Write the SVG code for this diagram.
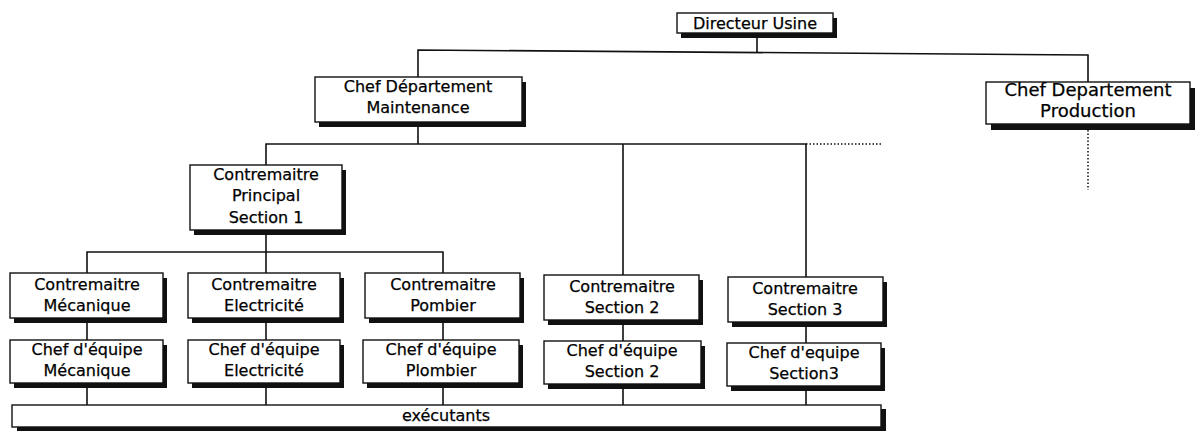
<svg xmlns="http://www.w3.org/2000/svg" width="1196" height="432" viewBox="0 0 1196 432">
  <style>
    .shadow { fill: #111; }
    .box { fill: #fff; stroke: #111; stroke-width: 1.4; }
    .lbl { font-family: "DejaVu Sans", "Liberation Sans", sans-serif; font-size: 16px; fill: #000; stroke: #000; stroke-width: 0.25; text-anchor: middle; }
    .big { font-size: 18px; }
    .wire { fill: none; stroke: #111; stroke-width: 1.6; }
    .dots { fill: none; stroke: #111; stroke-width: 1.5; stroke-dasharray: 1.5 2; }
  </style>
  <rect width="1196" height="432" fill="#fff"/>

  <!-- connectors -->
  <g id="connectors">
    <path class="wire" d="M757 38 V52 M418 77 V50 L1088 55 V82"/>
    <path class="wire" d="M418 127 V144 M266 165 V144 H806 V277 M623 144 V275"/>
    <path class="dots" d="M806 144 H883 M1088 130 V190"/>
    <path class="wire" d="M266 235 V273 M87 273 V252 H443 V273"/>
    <path class="wire" d="M87 323 V340 M266 323 V340 M443 323 V340 M623 325 V341 M806 327 V343"/>
    <path class="wire" d="M87 388 V405 M266 388 V405 M443 388 V405 M623 389 V405 M806 391 V405"/>
  </g>

  <!-- top level -->
  <g id="directeur">
    <rect class="shadow" x="681" y="18" width="156" height="20"/>
    <rect class="box" x="677" y="13" width="156" height="20"/>
    <text class="lbl" x="755" y="28.5">Directeur Usine</text>
  </g>

  <g id="chef-maintenance">
    <rect class="shadow" x="319" y="82" width="207" height="45"/>
    <rect class="box" x="315" y="77" width="207" height="45"/>
    <text class="lbl" x="418" y="92">Chef Département</text>
    <text class="lbl" x="418" y="113">Maintenance</text>
  </g>

  <g id="chef-production">
    <rect class="shadow" x="991" y="88" width="204" height="42"/>
    <rect class="box" x="986" y="82" width="204" height="42"/>
    <text class="lbl big" x="1088" y="96">Chef Departement</text>
    <text class="lbl big" x="1088" y="117">Production</text>
  </g>

  <g id="principal-s1">
    <rect class="shadow" x="194" y="170" width="152" height="65"/>
    <rect class="box" x="190" y="165" width="152" height="65"/>
    <text class="lbl" x="266" y="180">Contremaitre</text>
    <text class="lbl" x="266" y="201">Principal</text>
    <text class="lbl" x="266" y="223">Section 1</text>
  </g>

  <!-- foremen row -->
  <g id="contremaitre-mecanique">
    <rect class="shadow" x="14" y="278" width="153" height="45"/>
    <rect class="box" x="10" y="273" width="153" height="45"/>
    <text class="lbl" x="87" y="290">Contremaitre</text>
    <text class="lbl" x="87" y="311">Mécanique</text>
  </g>

  <g id="contremaitre-electricite">
    <rect class="shadow" x="192" y="278" width="152" height="45"/>
    <rect class="box" x="188" y="273" width="152" height="45"/>
    <text class="lbl" x="264" y="290">Contremaitre</text>
    <text class="lbl" x="264" y="311">Electricité</text>
  </g>

  <g id="contremaitre-pombier">
    <rect class="shadow" x="369" y="278" width="155" height="45"/>
    <rect class="box" x="365" y="273" width="155" height="45"/>
    <text class="lbl" x="443" y="290">Contremaitre</text>
    <text class="lbl" x="443" y="311">Pombier</text>
  </g>

  <g id="contremaitre-section2">
    <rect class="shadow" x="548" y="280" width="155" height="45"/>
    <rect class="box" x="544" y="275" width="155" height="45"/>
    <text class="lbl" x="622" y="292">Contremaitre</text>
    <text class="lbl" x="622" y="313">Section 2</text>
  </g>

  <g id="contremaitre-section3">
    <rect class="shadow" x="732" y="282" width="155" height="45"/>
    <rect class="box" x="728" y="277" width="155" height="45"/>
    <text class="lbl" x="805" y="294">Contremaitre</text>
    <text class="lbl" x="805" y="315">Section 3</text>
  </g>

  <!-- team leaders row -->
  <g id="equipe-mecanique">
    <rect class="shadow" x="14" y="345" width="153" height="43"/>
    <rect class="box" x="10" y="340" width="153" height="43"/>
    <text class="lbl" x="87" y="355">Chef d'équipe</text>
    <text class="lbl" x="87" y="376">Mécanique</text>
  </g>

  <g id="equipe-electricite">
    <rect class="shadow" x="192" y="345" width="152" height="43"/>
    <rect class="box" x="188" y="340" width="152" height="43"/>
    <text class="lbl" x="264" y="355">Chef d'équipe</text>
    <text class="lbl" x="264" y="376">Electricité</text>
  </g>

  <g id="equipe-plombier">
    <rect class="shadow" x="367" y="345" width="156" height="43"/>
    <rect class="box" x="363" y="340" width="156" height="43"/>
    <text class="lbl" x="441" y="355">Chef d'équipe</text>
    <text class="lbl" x="441" y="376">Plombier</text>
  </g>

  <g id="equipe-section2">
    <rect class="shadow" x="548" y="346" width="157" height="43"/>
    <rect class="box" x="544" y="341" width="157" height="43"/>
    <text class="lbl" x="622" y="356">Chef d'équipe</text>
    <text class="lbl" x="622" y="377">Section 2</text>
  </g>

  <g id="equipe-section3">
    <rect class="shadow" x="731" y="348" width="154" height="43"/>
    <rect class="box" x="727" y="343" width="154" height="43"/>
    <text class="lbl" x="804" y="358">Chef d'equipe</text>
    <text class="lbl" x="804" y="379">Section3</text>
  </g>

  <!-- workers bar -->
  <g id="executants">
    <rect class="shadow" x="17" y="409" width="869" height="22"/>
    <rect class="box" x="12" y="405" width="869" height="22"/>
    <text class="lbl" x="446" y="421">exécutants</text>
  </g>
</svg>
